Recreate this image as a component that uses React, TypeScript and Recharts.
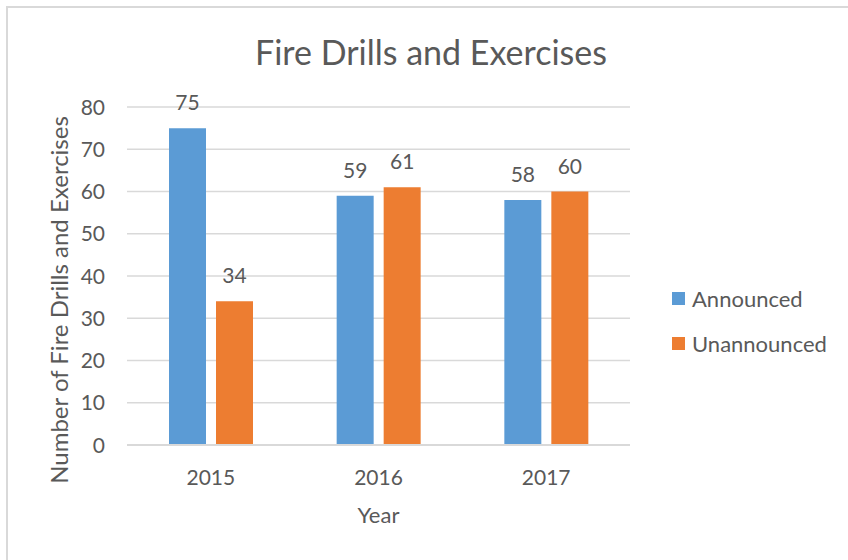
import React from 'react';
import { BarChart, Bar, XAxis, YAxis, CartesianGrid, LabelList } from 'recharts';

const years = ['2015', '2016', '2017'];
const announced = [75, 59, 58];
const unannounced = [34, 61, 60];
const yTicks = [0, 10, 20, 30, 40, 50, 60, 70, 80];
const seriesKeys = ['announced', 'unannounced'];
const seriesNames = ['Announced', 'Unannounced'];
const seriesColors = ['#5b9bd5', '#ed7d31'];

const data = years.map((y, i) => ({ year: y, announced: announced[i], unannounced: unannounced[i] }));

const FONT = 'Lato, "Noto Sans", sans-serif';
const TEXT = '#595959';

const XTick = (props: any) => {
  const { x, y, payload } = props;
  return (
    <text x={x} y={y} dy="0.71em" textAnchor="middle" fill={TEXT} fontSize={21} fontFamily={FONT}>
      {payload.value}
    </text>
  );
};

const YTick = (props: any) => {
  const { x, y, payload } = props;
  return (
    <text x={x} y={y} dy="0.36em" textAnchor="end" fill={TEXT} fontSize={21} fontFamily={FONT}>
      {payload.value}
    </text>
  );
};

const BarValue = (props: any) => {
  const { x, y, width, value } = props;
  return (
    <text x={x + width / 2} y={y - 18} textAnchor="middle" fill={TEXT} fontSize={21} fontFamily={FONT}>
      {value}
    </text>
  );
};

export default function App() {
  return (
    <div style={{ position: 'absolute', left: 0, top: 0, width: 848, height: 560, overflow: 'hidden', background: '#fff' }}>
      <div
        style={{
          position: 'absolute',
          left: 6,
          top: 6,
          width: 900,
          height: 600,
          border: '2px solid #d9d9d9',
          boxSizing: 'border-box',
        }}
      />
      <div
        style={{
          position: 'absolute',
          left: 231,
          top: 29,
          width: 400,
          textAlign: 'center',
          fontFamily: FONT,
          fontSize: 34,
          color: TEXT,
          lineHeight: '46px',
        }}
      >
        Fire Drills and Exercises
      </div>
      <div style={{ position: 'absolute', left: 0, top: 0 }}>
        <BarChart
          width={848}
          height={560}
          data={data}
          margin={{ top: 107, right: 218, bottom: 85, left: 67 }}
          barSize={37}
          barGap={10}
        >
          <CartesianGrid vertical={false} stroke="#d9d9d9" strokeWidth={1.5} />
          <XAxis
            dataKey="year"
            height={30}
            tickLine={false}
            tickSize={0}
            tickMargin={25}
            axisLine={{ stroke: '#d9d9d9', strokeWidth: 2 }}
            tick={<XTick />}
            label={{
              value: 'Year',
              position: 'insideBottom',
              content: (p: any) => {
                const vb = p.viewBox;
                return (
                  <text x={vb.x + vb.width / 2} y={523} textAnchor="middle" fill={TEXT} fontSize={22} fontFamily={FONT}>
                    Year
                  </text>
                );
              },
            }}
          />
          <YAxis
            width={60}
            domain={[0, 80]}
            ticks={yTicks}
            tickLine={false}
            tickSize={0}
            tickMargin={22}
            axisLine={false}
            tick={<YTick />}
            label={{
              value: 'Number of Fire Drills and Exercises',
              content: () => (
                <text
                  x={58}
                  y={300}
                  transform="rotate(-90 58 300)"
                  textAnchor="middle"
                  dominantBaseline="central"
                  fill={TEXT}
                  fontSize={24}
                  fontFamily={FONT}
                >
                  Number of Fire Drills and Exercises
                </text>
              ),
            }}
          />
          {seriesKeys.map((k, i) => (
            <Bar key={k} dataKey={k} name={seriesNames[i]} fill={seriesColors[i]} isAnimationActive={false}>
              <LabelList dataKey={k} content={<BarValue />} />
            </Bar>
          ))}
        </BarChart>
      </div>
      <div style={{ position: 'absolute', left: 672, top: 283, fontFamily: FONT, fontSize: 22, color: TEXT }}>
        {seriesNames.map((n, i) => (
          <div key={n} style={{ display: 'flex', alignItems: 'center', height: 30, marginBottom: 15 }}>
            <span style={{ display: 'inline-block', width: 13, height: 13, background: seriesColors[i], marginRight: 7 }} />
            <span>{n}</span>
          </div>
        ))}
      </div>
    </div>
  );
}
